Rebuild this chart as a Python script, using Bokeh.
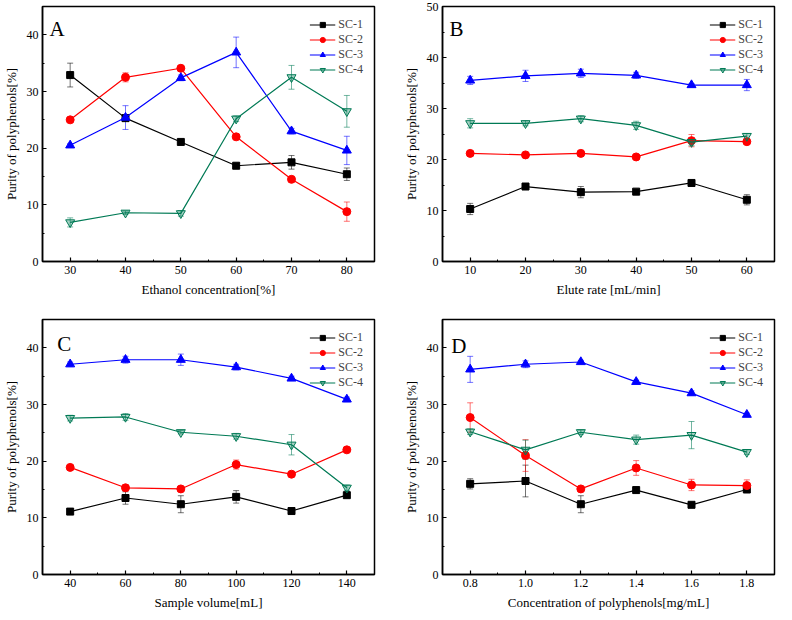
from bokeh.plotting import figure
from bokeh.models import (Range1d, SingleIntervalTicker, FixedTicker, PrintfTickFormatter,
                          Whisker, TeeHead, ColumnDataSource, Label)
from bokeh.layouts import column, row
from bokeh.embed import file_html
from bokeh.resources import INLINE

SERIES = ["SC-1", "SC-2", "SC-3", "SC-4"]
COLORS = ["#000000", "#ff0000", "#0000ff", "#007a55"]
MARKERS = ["square", "circle", "triangle", "inverted_triangle"]
SIZES = [7, 8, 9, 9]
FONT = "Liberation Serif"
Y_LABEL = "Purity of polyphenols[%]"

# ---- Panel A: Ethanol concentration ----
x_A = [30, 40, 50, 60, 70, 80]
a_sc1 = [32.9, 25.3, 21.1, 16.9, 17.5, 15.4]
a_sc2 = [25.0, 32.5, 34.1, 22.0, 14.5, 8.8]
a_sc3 = [20.5, 25.4, 32.4, 36.9, 23.0, 19.6]
a_sc4 = [6.9, 8.6, 8.5, 25.2, 32.5, 26.5]
a_sc1_err = [2.1, 0.4, 0.3, 0.3, 1.2, 1.1]
a_sc2_err = [0.3, 0.8, 0.3, 0.5, 0.3, 1.7]
a_sc3_err = [0.3, 2.1, 0.5, 2.7, 0.5, 2.5]
a_sc4_err = [0.8, 0.3, 0.5, 0.5, 2.1, 2.8]

# ---- Panel B: Elute rate ----
x_B = [10, 20, 30, 40, 50, 60]
b_sc1 = [10.3, 14.7, 13.6, 13.7, 15.4, 12.1]
b_sc2 = [21.2, 20.9, 21.2, 20.5, 23.7, 23.5]
b_sc3 = [35.5, 36.4, 36.9, 36.5, 34.6, 34.6]
b_sc4 = [27.1, 27.1, 28.0, 26.7, 23.4, 24.6]
b_sc1_err = [1.1, 0.3, 1.1, 0.4, 0.4, 1.0]
b_sc2_err = [0.4, 0.3, 0.6, 0.3, 1.2, 0.3]
b_sc3_err = [0.8, 1.1, 0.8, 0.6, 0.3, 1.1]
b_sc4_err = [0.9, 0.5, 0.6, 0.8, 0.7, 0.5]

# ---- Panel C: Sample volume ----
x_C = [40, 60, 80, 100, 120, 140]
c_sc1 = [11.1, 13.5, 12.4, 13.7, 11.2, 14.0]
c_sc2 = [18.9, 15.3, 15.1, 19.4, 17.7, 22.0]
c_sc3 = [37.1, 37.9, 37.9, 36.6, 34.6, 30.9]
c_sc4 = [27.6, 27.8, 25.1, 24.4, 22.9, 15.3]
c_sc1_err = [0.3, 1.1, 1.5, 1.1, 0.3, 0.4]
c_sc2_err = [0.3, 0.5, 0.3, 0.8, 0.3, 0.3]
c_sc3_err = [0.4, 0.6, 1.0, 0.5, 0.4, 0.4]
c_sc4_err = [0.5, 0.6, 0.3, 0.5, 1.8, 0.5]

# ---- Panel D: Concentration of polyphenols ----
x_D = [0.8, 1.0, 1.2, 1.4, 1.6, 1.8]
d_minor = [0.9, 1.1, 1.3, 1.5, 1.7]
d_sc1 = [16.0, 16.5, 12.4, 14.9, 12.3, 15.0]
d_sc2 = [27.7, 21.0, 15.1, 18.8, 15.8, 15.7]
d_sc3 = [36.2, 37.1, 37.5, 34.0, 32.0, 28.2]
d_sc4 = [25.2, 22.0, 25.1, 23.8, 24.6, 21.6]
d_sc1_err = [0.9, 2.8, 1.5, 0.3, 0.3, 0.4]
d_sc2_err = [2.6, 2.8, 0.3, 1.3, 1.0, 1.0]
d_sc3_err = [2.3, 0.6, 0.3, 0.3, 0.4, 0.3]
d_sc4_err = [0.5, 1.7, 0.4, 0.8, 2.4, 0.4]


def make_panel(letter, xs, vals, errs, xlabel, xr, yr, xticker, width, height,
               bl, br, bt, bb, letter_off, xfmt=None):
    p = figure(width=width, height=height, output_backend="svg", toolbar_location=None,
               x_range=Range1d(*xr), y_range=Range1d(*yr),
               min_border_left=bl, min_border_right=br, min_border_top=bt,
               min_border_bottom=bb)
    p.xgrid.visible = False
    p.ygrid.visible = False
    p.outline_line_color = "black"
    p.outline_line_width = 1.5
    p.outline_line_alpha = 1.0
    p.background_fill_color = "white"
    p.border_fill_color = "white"

    for i, (v, e) in enumerate(zip(vals, errs)):
        src = ColumnDataSource(dict(x=xs, y=v,
                                    lo=[a - b for a, b in zip(v, e)],
                                    hi=[a + b for a, b in zip(v, e)]))
        w = Whisker(source=src, base="x", upper="hi", lower="lo", dimension="height",
                    line_color=COLORS[i], line_alpha=0.55, line_width=1,
                    upper_head=TeeHead(size=6, line_color=COLORS[i], line_alpha=0.55, line_width=1),
                    lower_head=TeeHead(size=6, line_color=COLORS[i], line_alpha=0.55, line_width=1))
        p.add_layout(w)
        p.line("x", "y", source=src, line_color=COLORS[i], line_width=1.2,
               legend_label=SERIES[i])
        fill_alpha = 0.35 if MARKERS[i] == "inverted_triangle" else 1.0
        p.scatter("x", "y", source=src, marker=MARKERS[i], size=SIZES[i],
                  line_color=COLORS[i], fill_color=COLORS[i], fill_alpha=fill_alpha,
                  legend_label=SERIES[i])

    p.xaxis.ticker = xticker
    p.yaxis.ticker = SingleIntervalTicker(interval=10, num_minor_ticks=2)
    if xfmt is not None:
        p.xaxis.formatter = xfmt
    p.xaxis.axis_label = xlabel
    p.yaxis.axis_label = Y_LABEL
    for ax in (p.xaxis[0], p.yaxis[0]):
        ax.axis_line_width = 1.5
        ax.axis_line_color = "black"
        ax.major_tick_in = 4
        ax.major_tick_out = 0
        ax.minor_tick_in = 2
        ax.minor_tick_out = 0
        ax.major_tick_line_width = 1.2
        ax.minor_tick_line_width = 1
        ax.major_label_text_font = FONT
        ax.major_label_text_font_size = "12px"
        ax.major_label_text_color = "black"
        ax.major_label_standoff = 4
        ax.axis_label_text_font = FONT
        ax.axis_label_text_font_size = "13px"
        ax.axis_label_text_font_style = "normal"
        ax.axis_label_text_color = "black"
        ax.axis_label_standoff = 5

    lg = p.legend[0]
    lg.location = "top_right"
    lg.border_line_color = None
    lg.background_fill_alpha = 0
    lg.label_text_font = FONT
    lg.label_text_font_size = "12px"
    lg.glyph_width = 26
    lg.glyph_height = 13
    lg.label_height = 13
    lg.label_standoff = 3
    lg.spacing = 0
    lg.padding = 0
    lg.margin = 11

    fw = width - bl - br
    fh = height - bt - bb
    lx = xr[0] + letter_off[0] / fw * (xr[1] - xr[0])
    ly = yr[1] - letter_off[1] / fh * (yr[1] - yr[0])
    p.add_layout(Label(x=lx, y=ly, text=letter, text_font=FONT, text_font_size="21px",
                       text_baseline="top", text_align="left", text_color="black"))
    return p


pA = make_panel("A", x_A, [a_sc1, a_sc2, a_sc3, a_sc4],
                [a_sc1_err, a_sc2_err, a_sc3_err, a_sc4_err],
                "Ethanol concentration[%]", (25, 85), (0, 45),
                SingleIntervalTicker(interval=10, num_minor_ticks=2),
                400, 302, 36, 26, 6, 41, (7, 10))
pB = make_panel("B", x_B, [b_sc1, b_sc2, b_sc3, b_sc4],
                [b_sc1_err, b_sc2_err, b_sc3_err, b_sc4_err],
                "Elute rate [mL/min]", (5, 65), (0, 50),
                SingleIntervalTicker(interval=10, num_minor_ticks=2),
                376, 302, 36, 2, 6, 41, (7, 10))
pC = make_panel("C", x_C, [c_sc1, c_sc2, c_sc3, c_sc4],
                [c_sc1_err, c_sc2_err, c_sc3_err, c_sc4_err],
                "Sample volume[mL]", (30, 150), (0, 45),
                SingleIntervalTicker(interval=20, num_minor_ticks=2),
                400, 310, 36, 26, 17, 38, (15, 12))
pD = make_panel("D", x_D, [d_sc1, d_sc2, d_sc3, d_sc4],
                [d_sc1_err, d_sc2_err, d_sc3_err, d_sc4_err],
                "Concentration of polyphenols[mg/mL]", (0.7, 1.9), (0, 45),
                FixedTicker(ticks=x_D, minor_ticks=d_minor),
                376, 310, 36, 2, 17, 38, (9, 14),
                xfmt=PrintfTickFormatter(format="%.1f"))

layout = column(row(pA, pB), row(pC, pD))
open("out.html", "w").write(file_html(layout, INLINE))
